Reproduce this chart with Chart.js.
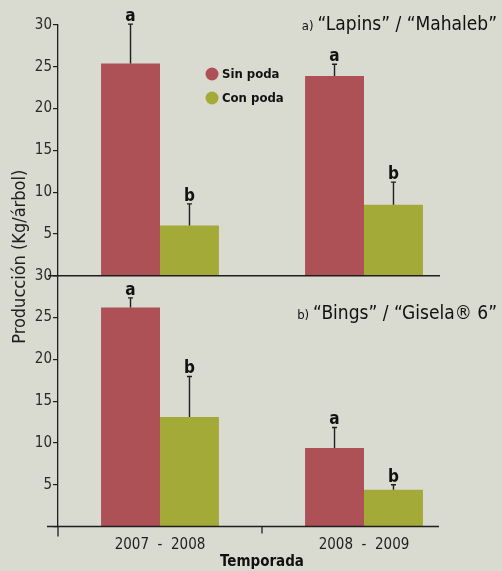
<!DOCTYPE html>
<html>
<head>
<meta charset="utf-8">
<script src="https://cdn.jsdelivr.net/npm/chart.js@4.4.1/dist/chart.umd.min.js"></script>
<style>
  html, body { margin: 0; padding: 0; background: #d9dbd0; }
  #wrap { width: 502px; height: 571px; position: relative; }
</style>
</head>
<body>
<div id="wrap"><canvas id="chart"></canvas></div>
<script>
//------------------ Data ------------------//
const seasons = ['2007  -  2008', '2008  -  2009'];
const treatments = ['Sin poda', 'Con poda'];
const yTickValues = [0, 5, 10, 15, 20, 25, 30];

// a) "Lapins" / "Mahaleb"
const lapinsSinPoda = [25.4, 23.9];
const lapinsConPoda = [6.0, 8.5];
const lapinsSinPodaErr = [4.7, 1.4];
const lapinsConPodaErr = [2.6, 2.7];
const lapinsSinPodaLetra = ['a', 'a'];
const lapinsConPodaLetra = ['b', 'b'];

// b) "Bings" / "Gisela® 6"
const bingsSinPoda = [26.2, 9.4];
const bingsConPoda = [13.1, 4.4];
const bingsSinPodaErr = [1.15, 2.45];
const bingsConPodaErr = [4.85, 0.6];
const bingsSinPodaLetra = ['a', 'a'];
const bingsConPodaLetra = ['b', 'b'];

const panelTitles = [
  ['a)', '\u201CLapins\u201D / \u201CMahaleb\u201D'],
  ['b)', '\u201CBings\u201D / \u201CGisela\u00AE 6\u201D']
];
const yTitle = 'Producción (Kg/árbol)';
const xTitle = 'Temporada';

//------------------ Style ------------------//
const RED = '#ad5157';
const GREEN = '#a3aa37';
const INK = '#1e1e1e';
const FONT = "'Liberation Sans Narrow', 'DejaVu Sans Condensed', 'Noto Sans', sans-serif";

Chart.defaults.font.family = FONT;
Chart.defaults.color = '#2a2a2a';

function yScale() {
  return {
    type: 'linear',
    position: 'left',
    stack: 'panels',
    stackWeight: 1,
    stacked: false,
    min: 0,
    max: 30,
    afterBuildTicks: s => { s.ticks = yTickValues.map(v => ({ value: v })); },
    afterFit: s => { s.width = 58; },
    ticks: {
      autoSkip: false,
      padding: 1,
      font: { size: 15 },
      callback: v => (v === 0 ? '' : v)
    },
    grid: { drawOnChartArea: false, drawTicks: true, tickLength: 5, color: INK, lineWidth: 1.2 },
    border: { display: true, color: INK, width: 1.3 }
  };
}

//------------------ Extra drawing: error bars, letters, axes, legend, titles ------------------//
const extras = {
  id: 'extras',
  afterDatasetsDraw(chart) {
    const ctx = chart.ctx;
    const area = chart.chartArea;
    const x = chart.scales.x;
    const yTop = chart.scales.yTop;
    const yBot = chart.scales.yBot;
    ctx.save();

    // baselines of both panels + extensions
    ctx.strokeStyle = INK;
    ctx.lineWidth = 1.3;
    const topBase = yTop.getPixelForValue(0);
    const botBase = yBot.getPixelForValue(0);
    ctx.beginPath();
    ctx.moveTo(area.left - 10, topBase); ctx.lineTo(area.right - 26, topBase);
    ctx.moveTo(area.left - 11, botBase); ctx.lineTo(area.right - 27, botBase);
    ctx.moveTo(area.left, botBase); ctx.lineTo(area.left, botBase + 10);
    const mid = (x.getPixelForValue(0) + x.getPixelForValue(1)) / 2;
    ctx.moveTo(mid, botBase); ctx.lineTo(mid, botBase + 7);
    ctx.stroke();

    // error bars and significance letters
    chart.data.datasets.forEach((ds, di) => {
      const meta = chart.getDatasetMeta(di);
      const ys = chart.scales[ds.yAxisID];
      meta.data.forEach((bar, i) => {
        const top = ys.getPixelForValue(ds.data[i] + ds.errors[i]);
        ctx.strokeStyle = INK;
        ctx.lineWidth = 1.4;
        ctx.beginPath();
        ctx.moveTo(bar.x, bar.y);
        ctx.lineTo(bar.x, top);
        ctx.moveTo(bar.x - 2.5, top);
        ctx.lineTo(bar.x + 2.5, top);
        ctx.stroke();
        ctx.fillStyle = '#111';
        ctx.font = 'bold 17px ' + FONT;
        ctx.textAlign = 'center';
        ctx.textBaseline = 'alphabetic';
        ctx.fillText(ds.letters[i], bar.x, top - 3);
      });
    });

    // legend
    const lx = area.left + 154;
    const ly = yTop.top + 49;
    [0, 1].forEach(k => {
      const ds = chart.data.datasets[k];
      ctx.fillStyle = ds.backgroundColor;
      ctx.beginPath();
      ctx.arc(lx, ly + k * 24, 6.5, 0, Math.PI * 2);
      ctx.fill();
      ctx.fillStyle = '#111';
      ctx.font = 'bold 13px ' + FONT;
      ctx.textAlign = 'left';
      ctx.textBaseline = 'middle';
      ctx.fillText(ds.label, lx + 10, ly + k * 24 + 1);
    });

    // panel titles (right aligned)
    const titleY = [yTop.top + 5, yBot.top + 43];
    panelTitles.forEach((t, k) => {
      const right = chart.width - 5;
      ctx.textBaseline = 'alphabetic';
      ctx.textAlign = 'right';
      ctx.fillStyle = '#111';
      ctx.font = '19px ' + FONT;
      ctx.fillText(t[1], right, titleY[k]);
      const w = ctx.measureText(t[1]).width;
      ctx.font = '13px ' + FONT;
      ctx.fillText(t[0], right - w - 4, titleY[k]);
    });

    // shared y title
    ctx.translate(20, (yTop.top + yBot.bottom) / 2 - 19);
    ctx.rotate(-Math.PI / 2);
    ctx.font = '18px ' + FONT;
    ctx.fillStyle = '#1e1e1e';
    ctx.textAlign = 'center';
    ctx.textBaseline = 'middle';
    ctx.fillText(yTitle, 0, 0);
    ctx.restore();
  }
};

//------------------ Chart ------------------//
const ctx = document.getElementById('chart').getContext('2d');
const chart = new Chart(ctx, {
  type: 'bar',
  data: {
    labels: seasons,
    datasets: [
      { label: treatments[0], data: lapinsSinPoda, errors: lapinsSinPodaErr, letters: lapinsSinPodaLetra, yAxisID: 'yTop', stack: 'sin', backgroundColor: RED },
      { label: treatments[1], data: lapinsConPoda, errors: lapinsConPodaErr, letters: lapinsConPodaLetra, yAxisID: 'yTop', stack: 'con', backgroundColor: GREEN },
      { label: treatments[0], data: bingsSinPoda, errors: bingsSinPodaErr, letters: bingsSinPodaLetra, yAxisID: 'yBot', stack: 'sin', backgroundColor: RED },
      { label: treatments[1], data: bingsConPoda, errors: bingsConPodaErr, letters: bingsConPodaLetra, yAxisID: 'yBot', stack: 'con', backgroundColor: GREEN }
    ]
  },
  options: {
    responsive: true,
    maintainAspectRatio: false,
    animation: false,
    categoryPercentage: 0.578,
    barPercentage: 1,
    layout: { padding: { top: 25, right: 36, left: 0, bottom: 0 } },
    plugins: { legend: { display: false }, tooltip: { enabled: false } },
    scales: {
      x: {
        stacked: true,
        afterFit: s => { s.height = 44.5; },
        grid: { display: false, drawTicks: false, tickLength: 0 },
        border: { display: false },
        ticks: { padding: 10, font: { size: 15 }, color: '#1e1e1e' },
        title: { display: true, text: xTitle, padding: 0, color: '#111', font: { size: 15, weight: 'bold' } }
      },
      // the stacked axis declared last is placed on top
      yBot: yScale(),
      yTop: yScale()
    }
  },
  plugins: [extras]
});
</script>
</body>
</html>
